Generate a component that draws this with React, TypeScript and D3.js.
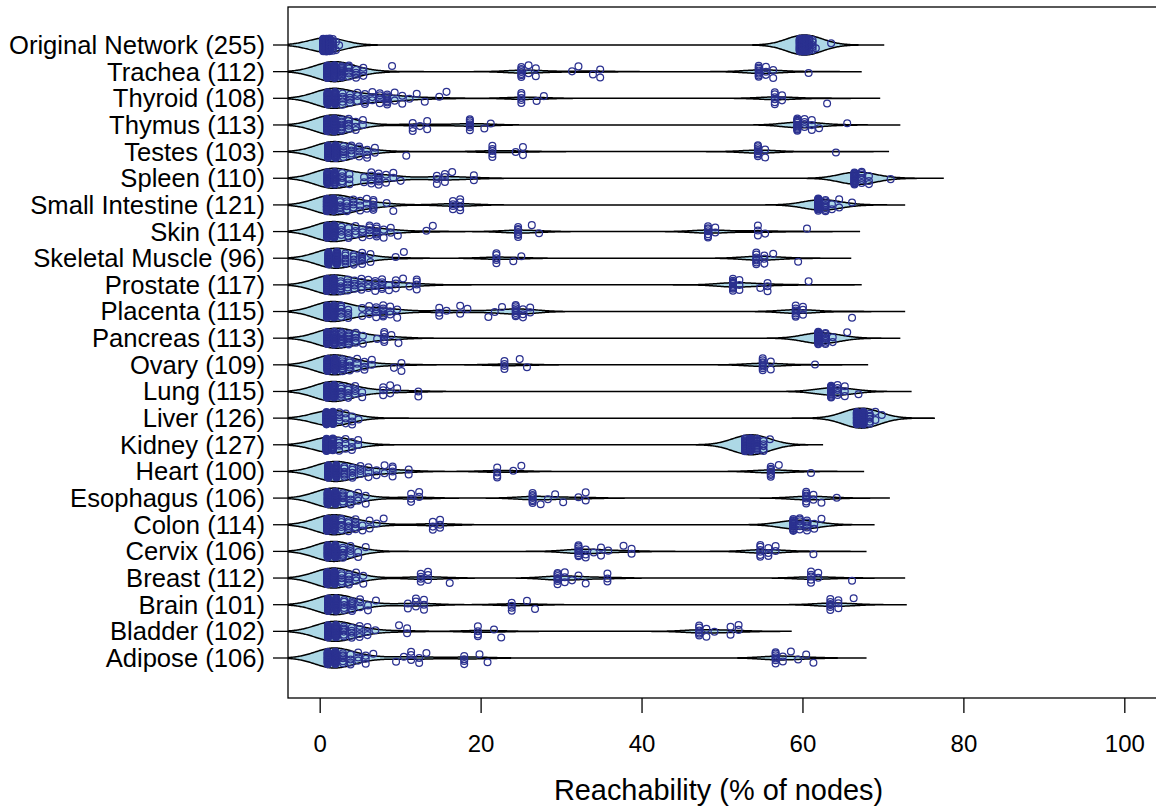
import React from 'react';
import * as d3 from 'd3';

const W = 1156;
const H = 809;

// row labels, top to bottom
const labels = [
  'Original Network (255)', 'Trachea (112)', 'Thyroid (108)', 'Thymus (113)', 'Testes (103)',
  'Spleen (110)', 'Small Intestine (121)', 'Skin (114)', 'Skeletal Muscle (96)', 'Prostate (117)',
  'Placenta (115)', 'Pancreas (113)', 'Ovary (109)', 'Lung (115)', 'Liver (126)', 'Kidney (127)',
  'Heart (100)', 'Esophagus (106)', 'Colon (114)', 'Cervix (106)', 'Breast (112)', 'Brain (101)',
  'Bladder (102)', 'Adipose (106)'
];

const xTicks = [0, 20, 40, 60, 80, 100];

// reachability values per network: [percent of nodes, number of nodes]
const originalNetwork = [[0.39, 40], [0.78, 35], [1.18, 20], [1.57, 8], [1.96, 2], [2.35, 1], [59.6, 20], [60.0, 60], [60.4, 50], [60.8, 10], [61.2, 5], [61.6, 1], [63.5, 1]];
const trachea = [[0.89, 30], [1.79, 25], [2.68, 12], [3.57, 6], [4.46, 4], [5.36, 3], [8.93, 1], [25.0, 7], [25.9, 2], [26.8, 2], [31.3, 1], [32.1, 1], [33.9, 1], [34.8, 2], [54.5, 8], [55.4, 3], [56.3, 2], [60.7, 1]];
const thyroid = [[0.93, 28], [1.85, 22], [2.78, 5], [3.7, 4], [4.63, 3], [5.56, 4], [6.48, 3], [7.41, 4], [8.33, 7], [9.26, 2], [10.2, 2], [11.1, 1], [12.0, 1], [13.0, 1], [14.8, 1], [15.7, 1], [25.0, 5], [26.9, 1], [27.8, 1], [56.5, 6], [57.4, 2], [63.0, 1]];
const thymus = [[0.88, 30], [1.77, 25], [2.65, 8], [3.54, 5], [4.42, 3], [5.31, 2], [11.5, 3], [12.4, 1], [13.3, 2], [18.6, 7], [20.4, 1], [21.2, 1], [59.3, 12], [60.2, 4], [61.1, 3], [62.0, 1], [65.5, 1]];
const testes = [[0.97, 30], [1.94, 28], [2.91, 6], [3.88, 5], [4.85, 4], [5.83, 3], [6.8, 2], [10.7, 1], [21.4, 5], [24.3, 1], [25.2, 2], [54.4, 8], [55.3, 2], [64.1, 1]];
const spleen = [[0.91, 20], [1.82, 16], [2.73, 5], [3.64, 3], [5.45, 2], [6.36, 4], [7.27, 6], [8.18, 2], [9.09, 2], [10.0, 1], [14.5, 3], [15.5, 3], [16.4, 1], [19.1, 2], [66.4, 18], [67.3, 6], [68.2, 3], [70.9, 1]];
const smallIntestine = [[0.83, 25], [1.65, 22], [2.48, 6], [3.31, 5], [4.13, 4], [4.96, 3], [5.79, 3], [6.61, 6], [8.26, 1], [9.09, 1], [16.5, 4], [17.4, 4], [61.9, 20], [62.8, 8], [63.6, 2], [64.5, 2], [66.1, 1]];
const skin = [[0.88, 28], [1.75, 22], [2.63, 4], [3.51, 4], [4.39, 3], [5.26, 3], [6.14, 4], [7.02, 6], [7.89, 2], [8.77, 2], [9.65, 1], [13.2, 1], [14.0, 1], [24.6, 7], [26.3, 1], [27.2, 1], [48.2, 7], [49.1, 2], [54.4, 3], [55.3, 1], [60.5, 1]];
const skeletalMuscle = [[1.04, 25], [2.08, 22], [3.13, 6], [4.17, 5], [5.21, 6], [6.25, 2], [9.38, 1], [10.4, 1], [21.9, 5], [24.0, 1], [25.0, 1], [54.2, 7], [55.2, 3], [56.3, 1], [59.4, 1]];
const prostate = [[0.85, 28], [1.71, 24], [2.56, 6], [3.42, 5], [4.27, 4], [5.13, 4], [5.98, 3], [6.84, 4], [7.69, 5], [8.55, 2], [9.4, 3], [10.3, 1], [11.1, 1], [12.0, 4], [51.3, 10], [52.1, 3], [54.7, 1], [55.6, 3], [60.7, 1]];
const placenta = [[0.87, 26], [1.74, 20], [2.61, 6], [3.48, 4], [5.22, 2], [6.09, 3], [6.96, 4], [7.83, 6], [8.7, 3], [9.57, 2], [14.8, 3], [15.7, 1], [17.4, 2], [18.3, 1], [20.9, 1], [21.7, 1], [22.6, 1], [24.3, 8], [25.2, 3], [26.1, 2], [59.1, 7], [60.0, 3], [66.1, 1]];
const pancreas = [[0.88, 20], [1.77, 18], [2.65, 10], [3.54, 8], [4.42, 5], [5.31, 2], [7.08, 1], [7.96, 5], [8.85, 1], [9.73, 1], [61.9, 20], [62.8, 8], [63.7, 2], [65.5, 1]];
const ovary = [[0.92, 28], [1.83, 24], [2.75, 8], [3.67, 5], [4.59, 3], [5.5, 3], [6.42, 2], [9.17, 1], [10.1, 2], [22.9, 4], [24.8, 1], [25.7, 1], [55.0, 8], [56.0, 2], [61.5, 1]];
const lung = [[0.87, 25], [1.74, 22], [2.61, 6], [3.48, 5], [4.35, 4], [5.22, 2], [7.83, 3], [8.7, 2], [9.57, 1], [12.2, 2], [63.5, 14], [64.3, 5], [65.2, 3], [66.9, 1]];
const liver = [[0.79, 25], [1.59, 20], [2.38, 4], [3.17, 3], [3.97, 3], [4.76, 1], [66.7, 30], [67.5, 30], [68.3, 6], [69.0, 2], [69.8, 1]];
const kidney = [[0.79, 22], [1.57, 18], [2.36, 4], [3.15, 3], [3.94, 3], [4.72, 2], [52.8, 20], [53.5, 25], [54.3, 12], [55.1, 5], [55.9, 1]];
const heart = [[1, 25], [2, 22], [3, 6], [4, 5], [5, 4], [6, 3], [7, 2], [8, 2], [9, 4], [11, 2], [22, 4], [24, 1], [25, 1], [56, 7], [57, 1], [61, 1]];
const esophagus = [[0.94, 26], [1.89, 22], [2.83, 6], [3.77, 4], [4.72, 3], [5.66, 2], [11.3, 3], [12.3, 2], [26.4, 7], [27.4, 1], [28.3, 1], [29.2, 1], [30.2, 1], [32.1, 1], [33.0, 2], [60.4, 7], [61.3, 2], [62.3, 1], [64.2, 1]];
const colon = [[0.88, 26], [1.75, 20], [2.63, 6], [3.51, 5], [4.39, 5], [5.26, 2], [6.14, 2], [7.02, 1], [7.89, 1], [14.0, 3], [14.9, 3], [58.8, 14], [59.6, 6], [60.5, 5], [61.4, 2], [62.3, 1]];
const cervix = [[0.94, 28], [1.89, 24], [2.83, 6], [3.77, 4], [4.72, 2], [5.66, 1], [32.1, 8], [33.0, 3], [34.0, 1], [34.9, 2], [35.8, 1], [37.7, 1], [38.7, 2], [54.7, 6], [55.7, 3], [56.6, 2], [61.3, 1]];
const breast = [[0.89, 26], [1.79, 22], [2.68, 5], [3.57, 5], [4.46, 3], [5.36, 2], [12.5, 4], [13.4, 3], [16.1, 1], [29.5, 7], [30.4, 3], [31.3, 1], [32.1, 1], [33.0, 1], [35.7, 3], [61.0, 5], [61.9, 2], [66.1, 1]];
const brain = [[0.99, 26], [1.98, 22], [2.97, 5], [3.96, 6], [4.95, 3], [5.94, 2], [6.93, 1], [10.9, 2], [11.9, 3], [12.9, 3], [23.8, 4], [25.7, 1], [26.7, 1], [63.4, 6], [64.4, 3], [66.3, 1]];
const bladder = [[0.98, 26], [1.96, 22], [2.94, 6], [3.92, 5], [4.9, 4], [5.88, 3], [6.86, 1], [9.8, 1], [10.8, 2], [19.6, 4], [21.6, 1], [22.5, 1], [47.1, 6], [48.0, 2], [49.0, 1], [51.0, 2], [52.0, 2]];
const adipose = [[0.94, 26], [1.89, 22], [2.83, 6], [3.77, 4], [4.72, 3], [5.66, 3], [6.6, 1], [9.43, 1], [10.4, 1], [11.3, 3], [12.3, 2], [13.2, 1], [17.9, 4], [19.8, 1], [20.8, 1], [56.6, 7], [57.5, 2], [58.5, 1], [59.4, 1], [60.4, 1], [61.3, 1]];

const rows = [
  originalNetwork, trachea, thyroid, thymus, testes, spleen, smallIntestine, skin,
  skeletalMuscle, prostate, placenta, pancreas, ovary, lung, liver, kidney,
  heart, esophagus, colon, cervix, breast, brain, bladder, adipose
];

const bw = 2.17; // kernel bandwidth (% units)
const halfWidth = 10; // max half width of a violin, px

function density(pairs: number[][]) {
  const lo = d3.min(pairs, p => p[0])! - 3 * bw;
  const hi = d3.max(pairs, p => p[0])! + 3 * bw;
  const grid = d3.range(0, 601).map(i => lo + (hi - lo) * i / 600);
  const d = grid.map(g => d3.sum(pairs, ([v, c]) => c * Math.exp(-0.5 * ((g - v) / bw) ** 2)));
  const m = d3.max(d)!;
  return grid.map((g, i) => [g, d[i] / m]);
}

export default function App() {
  const left = 288, right = 1157, top = 7, bottom = 698;
  const x = d3.scaleLinear().domain([-4, 104]).range([left, right]);
  const y = d3.scaleLinear().domain([0, labels.length - 1]).range([45, 658]);
  const font = '"Liberation Sans", Arial, Helvetica, sans-serif';

  return (
    <svg width={W} height={H} style={{ position: 'absolute', left: 0, top: 0, background: 'white' }}
      fontFamily={font}>
      <defs>
        <clipPath id="plotArea">
          <rect x={left} y={top} width={right - left} height={bottom - top} />
        </clipPath>
      </defs>
      <g clipPath="url(#plotArea)">
        {rows.map((pairs, i) => {
          const yc = y(i);
          const area = d3.area<number[]>()
            .x(d => x(d[0]))
            .y0(d => yc - halfWidth * d[1])
            .y1(d => yc + halfWidth * d[1]);
          return <path key={'v' + i} d={area(density(pairs)) || ''} fill="#add8e6" stroke="#000" strokeWidth={1.5} />;
        })}
        {rows.map((pairs, i) => {
          const yc = y(i);
          const pts: number[] = pairs.flatMap(([v, c]) => d3.range(c).map(() => v));
          return (
            <g key={'p' + i} fill="none" stroke="#2b3190" strokeWidth={1.25}>
              {pts.map((v, j) => {
                const jit = ((((j + 1) * 0.6180339887) % 1) - 0.5) * 13;
                return <circle key={j} cx={x(v)} cy={yc + jit} r={3.4} />;
              })}
            </g>
          );
        })}
      </g>
      <rect x={left} y={top} width={right - left} height={bottom - top} fill="none" stroke="#000" strokeWidth={1.3} />
      {labels.map((l, i) => (
        <g key={'yl' + i}>
          <line x1={left - 15} x2={left} y1={y(i)} y2={y(i)} stroke="#000" strokeWidth={1.3} />
          <text x={265} y={y(i)} dy="0.35em" textAnchor="end" fontSize={25.6}>{l}</text>
        </g>
      ))}
      {xTicks.map(t => (
        <g key={'xt' + t}>
          <line x1={x(t)} x2={x(t)} y1={bottom} y2={bottom + 15} stroke="#000" strokeWidth={1.3} />
          <text x={x(t)} y={752} textAnchor="middle" fontSize={24}>{t}</text>
        </g>
      ))}
      <text x={(left + right) / 2 - 4} y={800} textAnchor="middle" fontSize={28.9}>Reachability (% of nodes)</text>
    </svg>
  );
}
